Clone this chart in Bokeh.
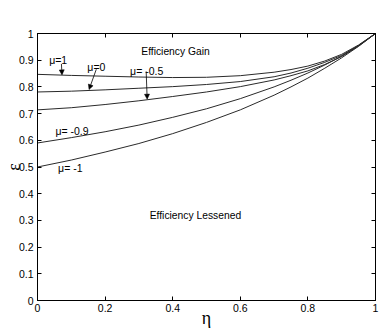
from bokeh.plotting import figure
from bokeh.models import Range1d, LinearAxis, Label, Arrow, NormalHead, FixedTicker
from bokeh.embed import file_html
from bokeh.resources import INLINE

# ---- data ----
eta = [0.0, 0.1, 0.2, 0.3, 0.4, 0.5, 0.6, 0.7, 0.75, 0.8, 0.85, 0.9, 0.95, 1.0]
eps_mu_p1 = [0.847, 0.843, 0.840, 0.837, 0.835, 0.836, 0.842, 0.855, 0.865, 0.878, 0.897, 0.922, 0.957, 1.0]
eps_mu_0 = [0.781, 0.784, 0.789, 0.795, 0.801, 0.809, 0.820, 0.838, 0.852, 0.870, 0.892, 0.918, 0.955, 1.0]
eps_mu_m05 = [0.714, 0.722, 0.734, 0.748, 0.764, 0.781, 0.801, 0.826, 0.842, 0.860, 0.884, 0.914, 0.953, 1.0]
eps_mu_m09 = [0.590, 0.610, 0.632, 0.657, 0.686, 0.718, 0.756, 0.800, 0.825, 0.852, 0.882, 0.915, 0.955, 1.0]
eps_mu_m1 = [0.500, 0.526, 0.556, 0.588, 0.625, 0.667, 0.714, 0.769, 0.800, 0.833, 0.870, 0.909, 0.952, 1.0]

x_ticks = [0, 0.2, 0.4, 0.6, 0.8, 1.0]
x_tick_labels = ["0", "0.2", "0.4", "0.6", "0.8", "1"]
y_ticks = [0, 0.1, 0.2, 0.3, 0.4, 0.5, 0.6, 0.7, 0.8, 0.9, 1.0]
y_tick_labels = ["0", "0.1", "0.2", "0.3", "0.4", "0.5", "0.6", "0.7", "0.8", "0.9", "1"]

SANS = "Liberation Sans"
SERIF = "Liberation Serif"
FS = "10.5px"

p = figure(width=382, height=330, output_backend="svg", toolbar_location=None,
           x_range=Range1d(0, 1), y_range=Range1d(0, 1),
           min_border_left=36, min_border_right=7, min_border_top=33, min_border_bottom=30)
p.background_fill_color = "white"
p.border_fill_color = "white"
p.outline_line_color = "black"
p.outline_line_width = 1
p.xgrid.visible = False
p.ygrid.visible = False


def style_axis(ax, ticks, labels, show_labels, standoff):
    ax.ticker = FixedTicker(ticks=ticks)
    ax.major_tick_in = 4
    ax.major_tick_out = 0
    ax.minor_tick_line_color = None
    ax.axis_line_color = "black"
    ax.major_tick_line_color = "black"
    ax.major_label_text_font = SANS
    ax.major_label_standoff = standoff
    if show_labels:
        ax.major_label_overrides = {t: l for t, l in zip(ticks, labels)}
        ax.major_label_text_font_size = FS
        ax.major_label_text_color = "black"
    else:
        ax.major_label_overrides = {t: "" for t in ticks}
        ax.major_label_text_color = None
        ax.major_label_text_font_size = "1px"
        ax.major_label_standoff = 0


style_axis(p.xaxis[0], x_ticks, x_tick_labels, True, 3)
style_axis(p.yaxis[0], y_ticks, y_tick_labels, True, 4)

p.xaxis[0].axis_label = "η"
p.xaxis[0].axis_label_text_font = SERIF
p.xaxis[0].axis_label_text_font_size = "18px"
p.xaxis[0].axis_label_text_font_style = "normal"
p.xaxis[0].axis_label_text_color = "black"
p.xaxis[0].axis_label_standoff = -7

p.yaxis[0].axis_label = "ε"
p.yaxis[0].axis_label_text_font = SERIF
p.yaxis[0].axis_label_text_font_size = "18px"
p.yaxis[0].axis_label_text_font_style = "normal"
p.yaxis[0].axis_label_text_color = "black"
p.yaxis[0].axis_label_standoff = -8

top = LinearAxis()
right = LinearAxis()
p.add_layout(top, "above")
p.add_layout(right, "right")
style_axis(top, x_ticks, x_tick_labels, False, 0)
style_axis(right, y_ticks, y_tick_labels, False, 0)

for ys in [eps_mu_p1, eps_mu_0, eps_mu_m05, eps_mu_m09, eps_mu_m1]:
    p.line(eta, ys, line_color="#2a2a2a", line_width=1)

# text annotations
def lab(x, y, t, size=FS, font=SANS):
    p.add_layout(Label(x=x, y=y, text=t, text_font=font, text_font_size=size,
                       text_color="black", text_align="left", text_baseline="middle"))

lab(0.0345, 0.900, "μ=1")
lab(0.1475, 0.876, "μ=0")
lab(0.274, 0.860, "μ= -0.5")
lab(0.053, 0.636, "μ= -0.9")
lab(0.061, 0.496, "μ= -1")
lab(0.307, 0.931, "Efficiency Gain", size="10.3px")
lab(0.332, 0.318, "Efficiency Lessened", size="10.3px")

# arrows
for (xs, ys, xe, ye) in [(0.0708, 0.886, 0.0725, 0.845),
                         (0.1740, 0.866, 0.1525, 0.790),
                         (0.3215, 0.858, 0.3245, 0.754)]:
    p.add_layout(Arrow(end=NormalHead(size=5, fill_color="black", line_color="black", line_width=0.5),
                       x_start=xs, y_start=ys, x_end=xe, y_end=ye,
                       line_color="black", line_width=0.8))

open("out.html", "w").write(file_html(p, INLINE))
